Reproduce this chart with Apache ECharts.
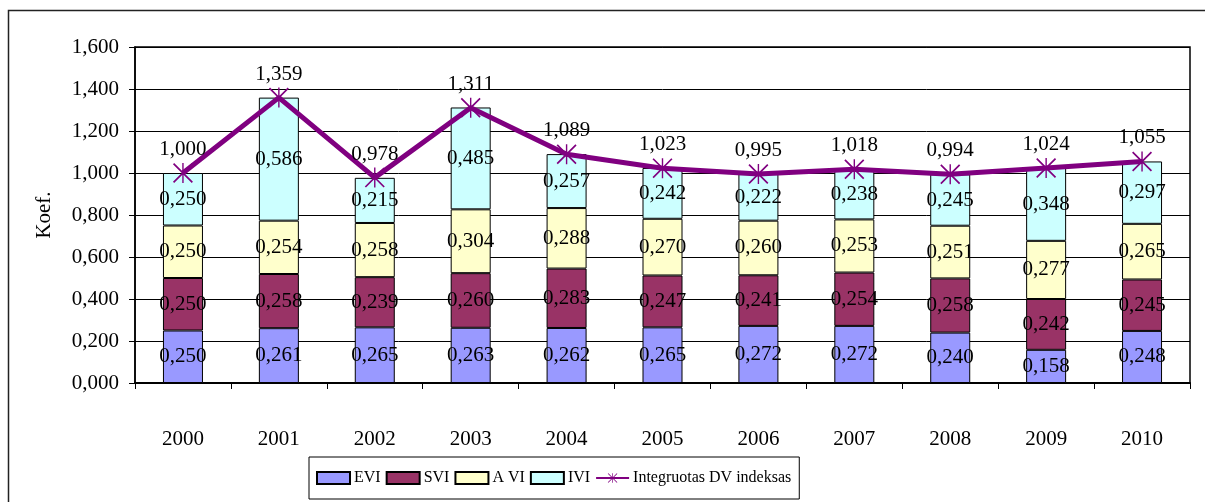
<!DOCTYPE html>
<html><head><meta charset="utf-8">
<script src="https://cdn.jsdelivr.net/npm/echarts@6/dist/echarts.min.js"></script>
<style>html,body{margin:0;padding:0;background:#fff}#c{width:1205px;height:502px}</style>
</head><body><div id="c"></div>
<script>
const categories = ['2000','2001','2002','2003','2004','2005','2006','2007','2008','2009','2010'];
const evi = [0.250,0.261,0.265,0.263,0.262,0.265,0.272,0.272,0.240,0.158,0.248];
const svi = [0.250,0.258,0.239,0.260,0.283,0.247,0.241,0.254,0.258,0.242,0.245];
const avi = [0.250,0.254,0.258,0.304,0.288,0.270,0.260,0.253,0.251,0.277,0.265];
const ivi = [0.250,0.586,0.215,0.485,0.257,0.242,0.222,0.238,0.245,0.348,0.297];
const integ = [1.000,1.359,0.978,1.311,1.089,1.023,0.995,1.018,0.994,1.024,1.055];

const FONT = '"Liberation Serif","DejaVu Serif",serif';
const FS = 21;
const fmt = v => Number(v).toFixed(3).replace('.', ',');
const star = 'path://M0,1.2 L1.2,0 L20,18.8 L18.8,20 Z M18.8,0 L20,1.2 L1.2,20 L0,18.8 Z M9.3,0 L10.7,0 L10.7,20 L9.3,20 Z';

function barSeries(name, data, color) {
  return {
    name, type: 'bar', stack: 'a', data, barWidth: 40,
    itemStyle: { color, borderColor: '#000', borderWidth: 1 },
    label: { show: true, position: 'inside', color: '#000', fontFamily: FONT, fontSize: FS,
      formatter: p => fmt(p.value) },
    emphasis: { disabled: true }
  };
}

const chart = echarts.init(document.getElementById('c'), null, { renderer: 'canvas' });
chart.setOption({
  animation: false,
  backgroundColor: '#fff',
  textStyle: { fontFamily: FONT },
  graphic: [{ type: 'rect', shape: { x: 8.5, y: 10.5, width: 1400, height: 700 },
    style: { fill: 'none', stroke: '#222', lineWidth: 1.5 }, z: -1 }],
  grid: { left: 135, right: 15, top: 47, bottom: 119, show: true, borderColor: '#000', borderWidth: 1.5, backgroundColor: 'transparent' },
  legend: {
    left: 309, top: 457, orient: 'horizontal',
    borderColor: '#000', borderWidth: 1, padding: [13, 8, 13, 7], itemGap: 5,
    itemWidth: 33, itemHeight: 12,
    textStyle: { fontFamily: FONT, fontSize: 16, color: '#000', padding: [0, 0, 0, -1] },
    data: [
      { name: 'EVI', icon: 'rect' }, { name: 'SVI', icon: 'rect' },
      { name: 'A VI', icon: 'rect' }, { name: 'IVI', icon: 'rect' },
      { name: 'Integruotas DV indeksas' }
    ]
  },
  xAxis: {
    type: 'category', data: categories, boundaryGap: true,
    axisLine: { lineStyle: { color: '#000', width: 2 } },
    axisTick: { show: true, length: 6, lineStyle: { color: '#000' }, alignWithLabel: false },
    axisLabel: { color: '#000', fontFamily: FONT, fontSize: FS, margin: 46 }
  },
  yAxis: {
    type: 'value', min: 0, max: 1.6, interval: 0.2,
    name: 'Koef.', nameLocation: 'middle', nameGap: 80, nameRotate: 90,
    nameTextStyle: { color: '#000', fontFamily: FONT, fontSize: FS },
    axisLine: { show: true, lineStyle: { color: '#000', width: 1.5 } },
    axisTick: { show: true, length: 6, lineStyle: { color: '#000' } },
    axisLabel: { color: '#000', fontFamily: FONT, fontSize: FS, margin: 16, formatter: v => fmt(v) },
    splitLine: { show: true, lineStyle: { color: '#000', width: 1 } }
  },
  series: [
    barSeries('EVI', evi, '#9999FF'),
    barSeries('SVI', svi, '#993366'),
    barSeries('A VI', avi, '#FFFFCC'),
    barSeries('IVI', ivi, '#CCFFFF'),
    {
      name: 'Integruotas DV indeksas', type: 'line', data: integ, z: 5,
      lineStyle: { color: '#800080', width: 5 },
      itemStyle: { color: '#800080' },
      symbol: star, symbolSize: 20, showAllSymbol: true,
      label: { show: true, position: 'top', distance: 3, color: '#000', fontFamily: FONT, fontSize: FS,
        formatter: p => fmt(p.value) },
      emphasis: { disabled: true }
    }
  ]
});
</script></body></html>
